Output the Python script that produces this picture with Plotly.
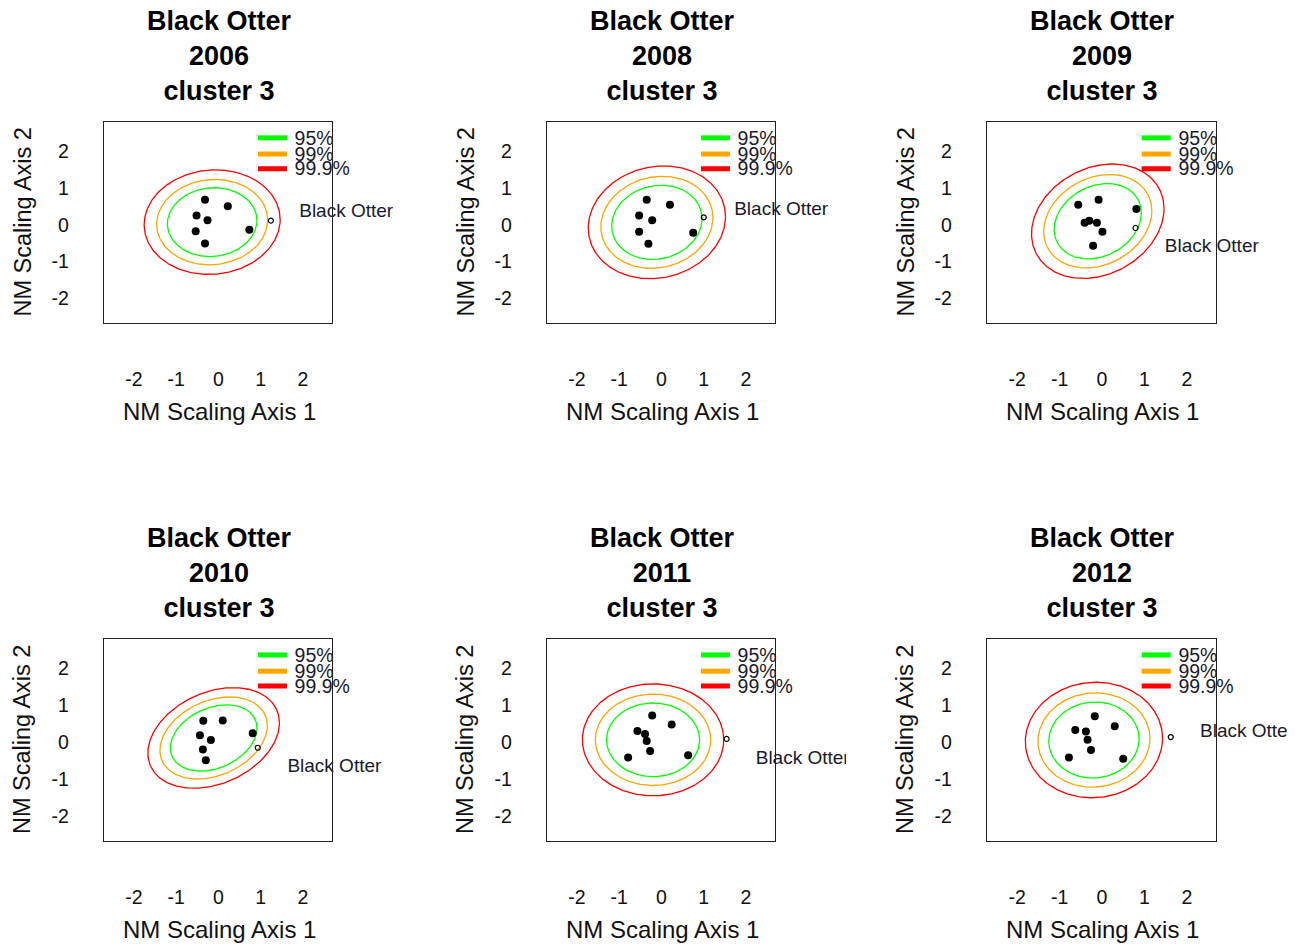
import numpy as np
import plotly.graph_objects as go

# ---------------- data ----------------
years = ["2006", "2008", "2009", "2010", "2011", "2012"]
site_name = "Black Otter"
cluster_name = "cluster 3"
axis_x_title = "NM Scaling Axis 1"
axis_y_title = "NM Scaling Axis 2"
tick_vals = [-2, -1, 0, 1, 2]
tick_text = ["-2", "-1", "0", "1", "2"]

# cluster member sites (filled dots), NMDS coordinates
x_2006 = [-0.32, 0.22, -0.52, -0.26, -0.54, 0.73, -0.32]
y_2006 = [0.68, 0.50, 0.25, 0.12, -0.18, -0.14, -0.51]
x_2008 = [-0.35, 0.20, -0.53, -0.22, -0.53, 0.75, -0.31]
y_2008 = [0.68, 0.54, 0.25, 0.12, -0.19, -0.22, -0.52]
x_2009 = [-0.56, -0.08, 0.81, -0.41, -0.30, -0.12, 0.01, -0.21]
y_2009 = [0.54, 0.68, 0.43, 0.05, 0.11, 0.05, -0.19, -0.57]
x_2010 = [-0.36, 0.10, 0.81, -0.44, -0.18, -0.37, -0.30]
y_2010 = [0.58, 0.59, 0.24, 0.19, 0.06, -0.20, -0.49]
x_2011 = [-0.22, 0.24, -0.57, -0.39, -0.35, -0.27, -0.79, 0.63]
y_2011 = [0.72, 0.48, 0.30, 0.22, 0.03, -0.24, -0.41, -0.35]
x_2012 = [-0.17, 0.30, -0.63, -0.38, -0.34, -0.26, -0.78, 0.50]
y_2012 = [0.70, 0.43, 0.33, 0.29, 0.07, -0.21, -0.41, -0.45]
members_x = [x_2006, x_2008, x_2009, x_2010, x_2011, x_2012]
members_y = [y_2006, y_2008, y_2009, y_2010, y_2011, y_2012]

# the assessed site (open circle)
otter_x = [1.24, 1.00, 0.79, 0.93, 1.54, 1.62]
otter_y = [0.11, 0.20, -0.09, -0.15, 0.09, 0.14]

# bivariate normal fitted to the cluster (mean, sd, correlation)
ell_mx = [-0.15, -0.11, -0.10, -0.115, -0.20, -0.19]
ell_my = [0.07, 0.065, 0.095, 0.115, 0.065, 0.06]
ell_sx = [0.433, 0.437, 0.42, 0.419, 0.45, 0.435]
ell_sy = [0.382, 0.412, 0.418, 0.366, 0.407, 0.42]
ell_rho = [0.05, 0.10, 0.22, 0.30, 0.0, 0.03]

levels = ["95%", "99%", "99.9%"]
chi2_q = [5.991, 9.210, 13.816]
level_colors = ["#00FF00", "#FFA500", "#FF0000"]

# ---------------- layout geometry ----------------
W, H = 1299, 945
FONT = "Liberation Sans, Arial, sans-serif"
box_left = [104, 547, 987]
box_right = [332, 775, 1216]
box_top = [122, 639]
box_bottom = [323, 841]
x_range = [-2.71, 2.686]
y_range = [-2.67, 2.79]

label_x = [1.91, 1.72, 1.48, 1.63, 2.23, 2.31]
label_y = [0.33, 0.39, -0.62, -0.68, -0.46, 0.28]

leg_x0, leg_x1, leg_tx = 0.935, 1.62, 1.80
leg_y = [2.36, 1.92, 1.52]
leg_ty = [2.31, 1.87, 1.47]

fig = go.Figure()
annotations = []
layout_axes = {}
t = np.linspace(0, 2 * np.pi, 361)

for i, yr in enumerate(years):
    r, c = divmod(i, 3)
    n = i + 1
    xa = "x" if n == 1 else f"x{n}"
    ya = "y" if n == 1 else f"y{n}"
    xkey = "xaxis" if n == 1 else f"xaxis{n}"
    ykey = "yaxis" if n == 1 else f"yaxis{n}"

    common = dict(
        showline=True, mirror=True, linecolor="#222222", linewidth=1.3,
        showgrid=False, zeroline=False, ticks="", tickmode="array",
        tickvals=tick_vals, ticktext=tick_text,
        tickfont=dict(family=FONT, size=19.5, color="#111111"),
        fixedrange=True,
    )
    layout_axes[xkey] = dict(
        common, domain=[box_left[c] / W, box_right[c] / W], range=x_range,
        anchor=ya, ticklabelstandoff=38,
    )
    layout_axes[ykey] = dict(
        common, domain=[1 - box_bottom[r] / H, 1 - box_top[r] / H], range=y_range,
        anchor=xa, ticklabelstandoff=30,
    )

    # confidence ellipses
    mx, my, sx, sy, rho = ell_mx[i], ell_my[i], ell_sx[i], ell_sy[i], ell_rho[i]
    for lev, q, col in zip(levels, chi2_q, level_colors):
        rad = np.sqrt(q)
        ex = mx + rad * sx * np.cos(t)
        ey = my + rad * sy * (rho * np.cos(t) + np.sqrt(1 - rho ** 2) * np.sin(t))
        fig.add_trace(go.Scatter(
            x=ex, y=ey, mode="lines", line=dict(color=col, width=1.3),
            xaxis=xa, yaxis=ya, showlegend=False, hoverinfo="skip"))

    # cluster members
    fig.add_trace(go.Scatter(
        x=members_x[i], y=members_y[i], mode="markers",
        marker=dict(color="black", size=8, line=dict(width=0)),
        xaxis=xa, yaxis=ya, showlegend=False))

    # assessed site
    fig.add_trace(go.Scatter(
        x=[otter_x[i]], y=[otter_y[i]], mode="markers",
        marker=dict(symbol="circle-open", color="black", size=5, line=dict(width=1.2)),
        xaxis=xa, yaxis=ya, showlegend=False))

    fig.add_trace(go.Scatter(
        x=[label_x[i]], y=[label_y[i]], mode="text", text=[site_name],
        textposition="middle right", cliponaxis=False,
        textfont=dict(family=FONT, size=19, color="#1a1a2e"),
        xaxis=xa, yaxis=ya, showlegend=False, hoverinfo="skip"))

    # in-panel legend
    for lev, col, ly in zip(levels, level_colors, leg_y):
        fig.add_trace(go.Scatter(
            x=[leg_x0, leg_x1], y=[ly, ly], mode="lines",
            line=dict(color=col, width=5),
            xaxis=xa, yaxis=ya, showlegend=False, hoverinfo="skip"))
    fig.add_trace(go.Scatter(
        x=[leg_tx] * 3, y=leg_ty, mode="text", text=levels,
        textposition="middle right", cliponaxis=False,
        textfont=dict(family=FONT, size=19.5, color="#1a1a2e"),
        xaxis=xa, yaxis=ya, showlegend=False, hoverinfo="skip"))

    # panel title
    cx = (box_left[c] + box_right[c]) / 2 + 1
    title_cy = [55.5, 572.5][r]
    annotations.append(dict(
        text=f"<b>{site_name}<br>{yr}<br>{cluster_name}</b>",
        x=cx / W, y=1 - title_cy / H, xref="paper", yref="paper",
        xanchor="center", yanchor="middle", showarrow=False,
        font=dict(family=FONT, size=27, color="black")))
    # axis titles
    annotations.append(dict(
        text=axis_x_title, x=(box_left[c] + 115) / W,
        y=1 - (box_bottom[r] + 88) / H, xref="paper", yref="paper",
        xanchor="center", yanchor="middle", showarrow=False,
        font=dict(family=FONT, size=24, color="#111111")))
    annotations.append(dict(
        text=axis_y_title, x=(box_left[c] - 82) / W,
        y=1 - ((box_top[r] + box_bottom[r]) / 2) / H, xref="paper", yref="paper",
        xanchor="center", yanchor="middle", showarrow=False, textangle=-90,
        font=dict(family=FONT, size=23.5, color="#111111")))

# clip regions of the original figure cells
shapes = [
    dict(type="rect", xref="paper", yref="paper", layer="above",
         x0=846 / W, x1=866 / W, y0=1 - 775 / H, y1=1 - 735 / H,
         fillcolor="white", line=dict(width=0)),
    dict(type="rect", xref="paper", yref="paper", layer="above",
         x0=1287 / W, x1=1.0, y0=1 - 750 / H, y1=1 - 705 / H,
         fillcolor="white", line=dict(width=0)),
]

fig.update_layout(
    width=W, height=H, autosize=False,
    margin=dict(l=0, r=0, t=0, b=0),
    paper_bgcolor="white", plot_bgcolor="white",
    annotations=annotations, shapes=shapes, showlegend=False,
    **layout_axes,
)

fig.write_html("out.html")
